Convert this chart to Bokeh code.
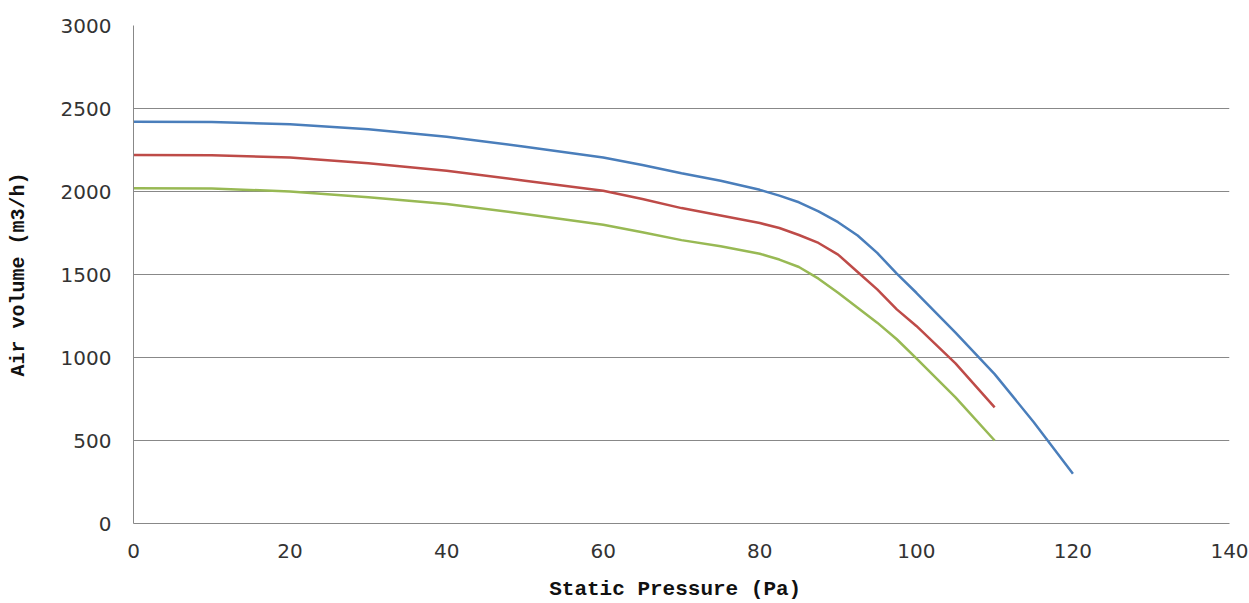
from bokeh.plotting import figure
from bokeh.models import Range1d, FixedTicker
from bokeh.embed import file_html
from bokeh.resources import INLINE

# Static pressure (Pa) and air volume (m3/h) for the three curves
pressure_blue = [0, 10, 20, 30, 40, 50, 60, 65, 70, 75, 80, 82.5, 85, 87.5, 90, 92.5, 95, 97.5, 100, 105, 110, 115, 120]
volume_blue = [2420, 2418, 2405, 2375, 2330, 2270, 2205, 2160, 2110, 2065, 2010, 1975, 1935, 1880, 1815, 1735, 1630, 1505, 1390, 1150, 900, 610, 300]

pressure_red = [0, 10, 20, 30, 40, 50, 60, 65, 70, 75, 80, 82.5, 85, 87.5, 90, 92.5, 95, 97.5, 100, 105, 110]
volume_red = [2220, 2218, 2205, 2170, 2125, 2065, 2005, 1955, 1900, 1855, 1810, 1780, 1738, 1690, 1620, 1515, 1410, 1290, 1190, 965, 700]

pressure_green = [0, 10, 20, 30, 40, 50, 60, 65, 70, 75, 80, 82.5, 85, 87.5, 90, 92.5, 95, 97.5, 100, 105, 110]
volume_green = [2020, 2018, 2000, 1965, 1925, 1865, 1800, 1755, 1707, 1670, 1625, 1590, 1545, 1475, 1390, 1300, 1210, 1110, 995, 760, 500]

x_ticks = [0, 20, 40, 60, 80, 100, 120, 140]
y_ticks = [0, 500, 1000, 1500, 2000, 2500, 3000]

x_title = "Static Pressure  (Pa)"
y_title = "Air volume (m3/h)"

p = figure(width=1249, height=603, output_backend="svg", toolbar_location=None,
           x_range=Range1d(0, 140), y_range=Range1d(0, 3000),
           min_border_left=133, min_border_right=20, min_border_top=25, min_border_bottom=79)
p.outline_line_color = None
p.background_fill_color = "white"

p.line(pressure_blue, volume_blue, line_color="#4A7EBB", line_width=2.5)
p.line(pressure_red, volume_red, line_color="#BE4B48", line_width=2.5)
p.line(pressure_green, volume_green, line_color="#98B954", line_width=2.5)

p.xgrid.visible = False
p.ygrid.ticker = FixedTicker(ticks=y_ticks)
p.ygrid.grid_line_color = "#888888"
p.ygrid.grid_line_width = 1

p.xaxis.ticker = FixedTicker(ticks=x_ticks)
p.yaxis.ticker = FixedTicker(ticks=y_ticks)
for ax in (p.xaxis[0], p.yaxis[0]):
    ax.axis_line_color = "#888888"
    ax.major_tick_line_color = None
    ax.minor_tick_line_color = None
    ax.major_tick_out = 0
    ax.major_tick_in = 0
    ax.major_label_text_font = "DejaVu Sans"
    ax.major_label_text_font_size = "20px"
    ax.major_label_text_color = "#333333"
    ax.axis_label_text_font = "Liberation Mono"
    ax.axis_label_text_font_style = "bold"
    ax.axis_label_text_color = "#111111"

p.xaxis.axis_label = x_title
p.xaxis.axis_label_text_font_size = "21px"
p.xaxis.major_label_standoff = 20
p.xaxis.axis_label_standoff = 17

p.yaxis.axis_label = y_title
p.yaxis.axis_label_text_font_size = "20px"
p.yaxis.major_label_standoff = 22
p.yaxis.axis_label_standoff = 28

open("out.html", "w").write(file_html(p, INLINE))
